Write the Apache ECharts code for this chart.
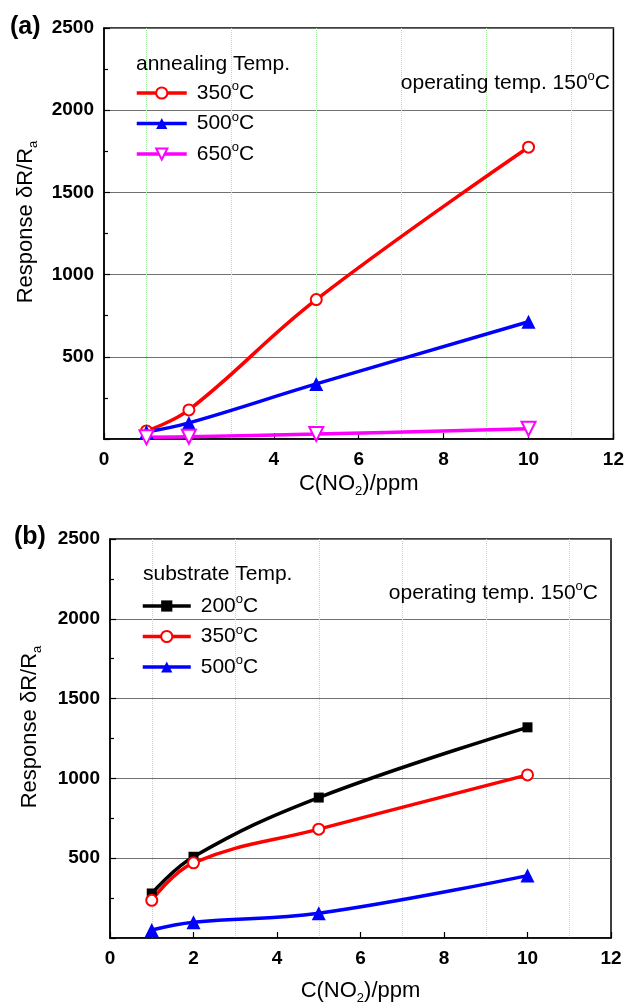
<!DOCTYPE html>
<html>
<head>
<meta charset="utf-8">
<script src="https://cdn.jsdelivr.net/npm/echarts@6/dist/echarts.min.js"></script>
<style>
html, body { margin: 0; padding: 0; background: #fff; }
#chart { width: 627px; height: 1006px; }
</style>
</head>
<body>
<div id="chart"></div>
<script>
// NO2 concentration (ppm) shared by every series
const concentrations = [1, 2, 5, 10];

// (a) annealing temperature series
const annealingNames = ['350°C', '500°C', '650°C'];
const annealing350 = [49, 177, 848, 1775];
const annealing500 = [43, 98, 335, 713];
const annealing650 = [10, 14, 30, 62];

// (b) substrate temperature series
const substrateNames = ['200°C', '350°C', '500°C'];
const substrate200 = [279, 509, 880, 1320];
const substrate350 = [236, 471, 682, 1022];
const substrate500 = [50, 99, 155, 391];

const xTicks = [0, 2, 4, 6, 8, 10, 12];
const yTicks = [0, 500, 1000, 1500, 2000, 2500];

const FONT = 'Liberation Sans';

const nameRich = {
    t: { fontFamily: FONT, fontSize: 22, fontWeight: 'normal', lineHeight: 22, padding: [3, 0, 3, 0], color: '#000' },
    sub: { fontFamily: FONT, fontSize: 13, fontWeight: 'normal', lineHeight: 13, padding: [15, 0, 0, 0], color: '#000' }
};
const degRich = {
    t: { fontFamily: FONT, fontSize: 21, fontWeight: 'normal', lineHeight: 22, padding: [3, 0, 3, 0], color: '#000' },
    f: { fontFamily: FONT, fontSize: 21, fontWeight: 'normal', lineHeight: 22, padding: [3, 0, 3, 5], color: '#000' },
    sup: { fontFamily: FONT, fontSize: 13, fontWeight: 'normal', lineHeight: 13, padding: [1, 0, 14, 0], color: '#000' }
};

function degText(name) {
    const num = name.split('°')[0];
    return '{f|' + num + '}{sup|o}{t|C}';
}

function pairs(values) {
    return concentrations.map((c, i) => [c, values[i]]);
}

function xAxisFor(gridIndex, nameGap) {
    return {
        type: 'value', gridIndex: gridIndex,
        min: xTicks[0], max: xTicks[xTicks.length - 1], interval: xTicks[1] - xTicks[0],
        name: '{t|C(NO}{sub|2}{t|)/ppm}',
        nameLocation: 'middle', nameGap: nameGap,
        nameTextStyle: { rich: nameRich },
        axisLine: { onZero: false, lineStyle: { color: '#000', width: 1.5 } },
        axisTick: { inside: true, length: 6, lineStyle: { color: '#000', width: 1.2 } },
        axisLabel: { margin: 11, fontFamily: FONT, fontSize: 19, fontWeight: 'bold', color: '#000' },
        splitLine: { show: false },
        minorTick: { show: false, splitNumber: 2 },
        minorSplitLine: { show: true, lineStyle: { color: '#a6e8a6', type: 'dotted', width: 1 } }
    };
}

function yAxisFor(gridIndex, nameGap) {
    return {
        type: 'value', gridIndex: gridIndex,
        min: yTicks[0], max: yTicks[yTicks.length - 1], interval: yTicks[1] - yTicks[0],
        name: '{t|Response δR/R}{sub|a}',
        nameLocation: 'middle', nameGap: nameGap,
        nameTextStyle: { rich: nameRich, padding: [0, 0, 0, 23] },
        axisLine: { onZero: false, lineStyle: { color: '#000', width: 1.5 } },
        axisTick: { inside: true, length: 6, lineStyle: { color: '#000', width: 1.2 } },
        minorTick: { show: true, splitNumber: 2, length: 4, lineStyle: { color: '#000', width: 1.2 } },
        axisLabel: {
            margin: 10, showMinLabel: false, formatter: v => String(v),
            fontFamily: FONT, fontSize: 19, fontWeight: 'bold', color: '#000'
        },
        splitLine: { show: true, lineStyle: { color: '#707070', width: 1.2 } }
    };
}

function lineSeries(name, values, idx, color, symbol, size, extra) {
    return Object.assign({
        name: name, type: 'line', xAxisIndex: idx, yAxisIndex: idx,
        data: pairs(values), smooth: 0.4,
        symbol: symbol, symbolSize: size,
        lineStyle: { color: color, width: 3.5 },
        itemStyle: { color: color, borderWidth: 1.5 },
        emphasis: { disabled: true },
        animation: false
    }, extra || {});
}

function legendFor(names, left, top, width) {
    return {
        orient: 'vertical', left: left, top: top, padding: 0,
        itemWidth: width, itemHeight: 14, itemGap: 2.5,
        data: names, selectedMode: false,
        lineStyle: { width: 3.5 },
        formatter: degText,
        textStyle: { rich: degRich }
    };
}

const chart = echarts.init(document.getElementById('chart'));

chart.setOption({
    backgroundColor: '#fff',
    animation: false,
    grid: [
        { left: 104, top: 28, width: 510, height: 411, show: true, borderColor: '#000', borderWidth: 1.5 },
        { left: 110, top: 539, width: 501, height: 403, show: true, borderColor: '#000', borderWidth: 1.5 }
    ],
    xAxis: [xAxisFor(0, 34), xAxisFor(1, 42)],
    yAxis: [yAxisFor(0, 67), yAxisFor(1, 69)],
    title: [
        { text: '(a)', left: 10, top: 14, padding: 0, textStyle: { fontFamily: FONT, fontSize: 25, fontWeight: 'bold', lineHeight: 26, color: '#000' } },
        { text: '(b)', left: 14, top: 524, padding: 0, textStyle: { fontFamily: FONT, fontSize: 25, fontWeight: 'bold', lineHeight: 26, color: '#000' } },
        { text: 'annealing Temp.', left: 136, top: 53, padding: 0, textStyle: { fontFamily: FONT, fontSize: 21, fontWeight: 'normal', lineHeight: 22, color: '#000' } },
        { text: 'substrate Temp.', left: 143, top: 563, padding: 0, textStyle: { fontFamily: FONT, fontSize: 21, fontWeight: 'normal', lineHeight: 22, color: '#000' } },
        { text: '{t|operating temp. 150}{sup|o}{t|C}', right: 17, top: 72, padding: 0, textStyle: { fontWeight: 'normal', rich: degRich } },
        { text: '{t|operating temp. 150}{sup|o}{t|C}', right: 29, top: 582, padding: 0, textStyle: { fontWeight: 'normal', rich: degRich } }
    ],
    legend: [
        legendFor(annealingNames, 135, 79, 50),
        legendFor(substrateNames, 141, 592, 48)
    ],
    series: [
        lineSeries(annealingNames[0], annealing350, 0, '#ff0000', 'emptyCircle', 11),
        lineSeries(annealingNames[1], annealing500, 0, '#0000ff', 'triangle', 14),
        lineSeries(annealingNames[2], annealing650, 0, '#ff00ff', 'emptyTriangle', 14, { symbolRotate: 180 }),
        lineSeries(substrateNames[0], substrate200, 1, '#000000', 'rect', 10),
        lineSeries(substrateNames[1], substrate350, 1, '#ff0000', 'emptyCircle', 11),
        lineSeries(substrateNames[2], substrate500, 1, '#0000ff', 'triangle', 14)
    ]
});
</script>
</body>
</html>
